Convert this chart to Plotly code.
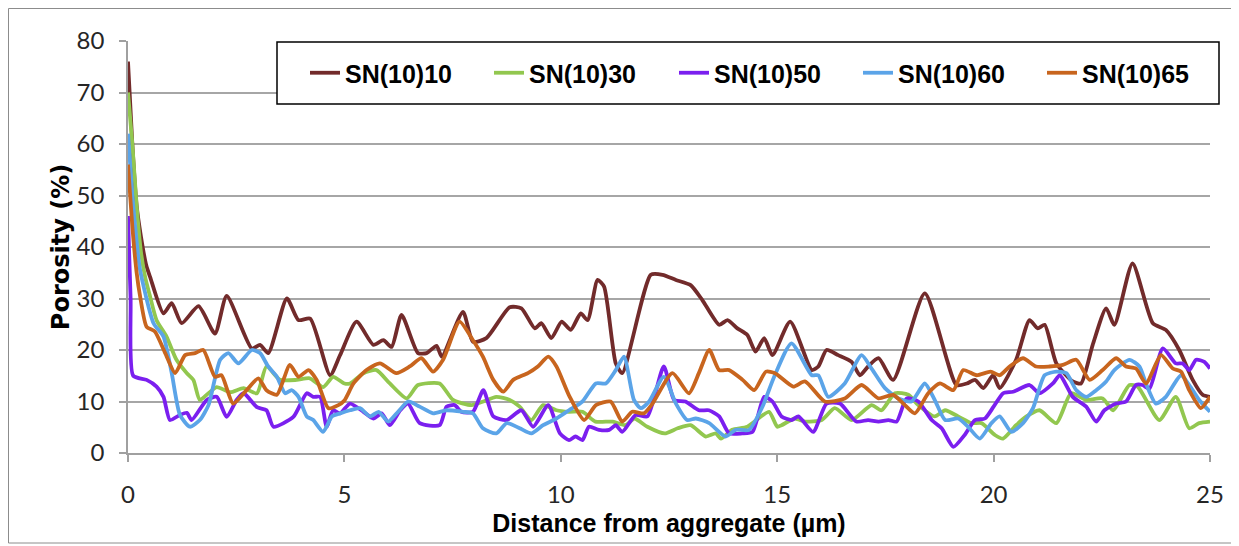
import plotly.graph_objects as go

# ---------------- data ----------------
x_sn10 = [0, 0.1, 0.2, 0.3, 0.42, 0.51, 0.82, 1.01, 1.24, 1.63, 2.01, 2.28, 2.86, 3.05, 3.24, 3.67, 3.94, 4.21, 4.67, 4.9,
          5.28, 5.67, 5.9, 6.09, 6.32, 6.7, 6.9, 7.13, 7.25, 7.74, 7.97, 8.28, 8.82, 9.09, 9.4, 9.55, 9.78, 10.02, 10.23, 10.46,
          10.62, 10.85, 11.0, 11.27, 11.42, 12.08, 12.35, 12.66, 13.0, 13.27, 13.66, 13.85, 14.08, 14.31, 14.5, 14.7, 14.89,
          15.3, 15.8, 15.95, 16.14, 16.41, 16.72, 16.91, 17.1, 17.34, 17.68, 18.41, 19.14, 19.38, 19.57, 19.76, 19.99, 20.14,
          20.52, 20.83, 21.02, 21.18, 21.45, 21.83, 22.02, 22.29, 22.6, 22.79, 23.21, 23.68, 23.98, 24.29, 24.6, 24.83, 25.0]
y_sn10 = [76, 60, 48, 42, 36.5, 34.2, 27.1, 29.1, 25.2, 28.5, 23.2, 30.5, 20.3, 21, 19.4, 30.0, 25.8, 26.1, 15.1, 19,
          25.5, 21, 21.9, 20.6, 26.8, 19.4, 19.4, 20.8, 18.7, 27.4, 21.6, 22.3, 28.3, 28.1, 24.2, 25.2, 22.3, 25.5, 23.9, 27.1,
          25.8, 33.6, 32.3, 17.4, 15.5, 34.6, 34.6, 33.6, 32.6, 29.7, 24.9, 25.8, 24.2, 22.9, 19.7, 22.3, 19.0,
          25.5, 16.1, 16.8, 20.0, 19.0, 17.7, 15.1, 16.8, 18.4, 14.2, 31.0, 13.2, 13.5, 14.2, 12.6, 15.1, 12.6,
          18.1, 25.8, 24.2, 24.9, 17.4, 13.9, 13.5, 21.0, 28.1, 24.9, 36.8, 25.2, 23.9, 20.0, 14.2, 11.3, 10.9]

x_sn30 = [0, 0.1, 0.2, 0.3, 0.4, 0.51, 0.66, 0.89, 1.12, 1.36, 1.51, 1.66, 1.86, 2.05, 2.36, 2.67, 2.98, 3.2, 3.51, 3.9,
          4.2, 4.51, 4.74, 5.0, 5.13, 5.44, 5.74, 6.05, 6.44, 6.7, 7.2, 7.51, 7.94, 8.21, 8.51, 8.82, 9.05, 9.32, 9.59, 9.9,
          10.18, 10.5, 10.8, 11.2, 11.5, 11.7, 12.0, 12.4, 12.7, 13.0, 13.35, 13.58, 13.7, 13.96, 14.31, 14.81, 15.0, 15.1,
          15.41, 15.64, 16.03, 16.33, 16.72, 17.18, 17.41, 17.72, 18.03, 18.26, 18.64, 18.88, 19.18, 19.49, 19.72, 20.03,
          20.22, 20.52, 20.76, 21.06, 21.45, 21.79, 22.14, 22.52, 22.76, 23.14, 23.33, 23.83, 24.21, 24.52, 24.75, 25.0]
y_sn30 = [70, 60, 48, 39, 34, 30.4, 25.8, 22.6, 18.1, 15.5, 14.2, 10.3, 11.6, 12.8, 11.8, 12.6, 11.6, 16.8, 14.2, 14.2,
          14.5, 12.8, 14.8, 13.5, 13.5, 15.5, 16.1, 13.5, 10.6, 13.2, 13.5, 10.3, 9.3, 10.0, 10.9, 10.3, 9.0, 6.4, 9.3, 8.3,
          8.0, 8.0, 6.1, 6.1, 5.4, 6.7, 5.1, 3.8, 4.8, 5.4, 3.2, 3.8, 2.8, 4.5, 5.1, 8.0, 5.1, 5.4,
          6.7, 6.1, 6.4, 8.7, 6.4, 9.3, 8.3, 11.6, 11.3, 9.3, 7.1, 8.3, 7.1, 5.8, 5.8, 3.5,
          2.8, 5.4, 7.1, 8.3, 5.8, 11.6, 10.3, 10.6, 8.3, 13.2, 12.9, 6.4, 10.9, 4.8, 5.8, 6.1]

x_sn50 = [0, 0.06, 0.12, 0.43, 0.66, 0.82, 0.97, 1.2, 1.36, 1.47, 1.82, 2.05, 2.28, 2.51, 2.67, 2.98, 3.2, 3.36, 3.82,
          4.13, 4.28, 4.44, 4.59, 4.74, 4.9, 5.13, 5.44, 5.67, 5.86, 6.05, 6.29, 6.47, 6.74, 7.2, 7.36, 7.55, 7.7, 7.97,
          8.21, 8.44, 8.75, 9.09, 9.36, 9.71, 9.98, 10.19, 10.34, 10.5, 10.65, 10.88, 11.12, 11.27, 11.42, 11.73, 12.0,
          12.38, 12.62, 12.88, 13.19, 13.42, 13.66, 13.89, 14.19, 14.43, 14.7, 14.89, 15.1, 15.33, 15.49, 15.83, 16.14,
          16.45, 16.83, 17.1, 17.34, 17.57, 17.76, 17.99, 18.26, 18.57, 18.8, 19.07, 19.33, 19.57, 19.8, 20.0, 20.22,
          20.45, 20.83, 21.06, 21.37, 21.53, 21.83, 22.14, 22.37, 22.56, 22.83, 23.06, 23.29, 23.44, 23.6, 23.91, 24.21,
          24.37, 24.52, 24.68, 24.87, 25.0]
y_sn50 = [46, 30, 15, 14.2, 12.9, 10.9, 6.4, 7.4, 7.8, 6.4, 10.3, 10.9, 7.0, 10.3, 11.6, 8.9, 8.3, 5.1, 7.0,
          11.6, 10.9, 10.9, 5.1, 8.3, 7.7, 9.6, 8.0, 6.7, 7.7, 5.4, 8.3, 9.6, 5.8, 5.4, 9.0, 9.3, 8.0, 8.0,
          12.2, 7.1, 6.4, 8.3, 5.1, 9.3, 3.8, 2.5, 3.2, 2.5, 5.1, 4.5, 4.5, 5.4, 4.1, 7.4, 7.1,
          16.8, 10.3, 10.0, 8.3, 8.3, 7.1, 3.8, 3.8, 4.1, 10.9, 10.0, 7.1, 6.4, 7.1, 4.1, 9.6,
          9.6, 6.1, 6.4, 6.1, 6.4, 6.1, 10.6, 10.0, 6.4, 4.8, 1.2, 3.5, 6.4, 6.7, 9.0, 11.6,
          11.9, 13.2, 11.6, 13.5, 15.1, 10.9, 9.0, 6.1, 8.3, 9.6, 10.0, 13.2, 13.2, 12.5, 20.3, 17.4,
          17.4, 16.1, 18.1, 17.7, 16.4]

x_sn60 = [0, 0.1, 0.2, 0.28, 0.59, 0.82, 1.01, 1.2, 1.43, 1.66, 1.86, 2.13, 2.32, 2.55, 2.86, 3.05, 3.24, 3.44, 3.63,
          3.78, 3.94, 4.13, 4.28, 4.51, 4.71, 4.9, 5.13, 5.36, 5.59, 5.79, 6.01, 6.24, 6.47, 6.74, 7.05, 7.36, 7.74, 7.97,
          8.2, 8.51, 8.75, 9.05, 9.32, 9.59, 9.9, 10.19, 10.5, 10.81, 11.04, 11.27, 11.46, 11.69, 11.85, 12.04, 12.38,
          12.66, 12.92, 13.12, 13.43, 13.81, 14.04, 14.35, 14.66, 14.93, 15.33, 15.8, 15.95, 16.18, 16.56, 16.95, 17.18,
          17.49, 17.8, 18.1, 18.41, 18.64, 18.88, 19.18, 19.41, 19.68, 19.95, 20.14, 20.41, 20.68, 20.91, 21.18, 21.45,
          21.68, 21.91, 22.14, 22.37, 22.6, 22.79, 23.14, 23.37, 23.52, 23.75, 23.98, 24.33, 24.52, 24.75, 25.0]
y_sn60 = [62, 50, 41, 35.5, 25.2, 22.6, 15.5, 7.4, 5.1, 6.4, 9.3, 18.1, 19.4, 17.4, 20.0, 19.4, 16.8, 14.8, 11.6,
          12.2, 10.9, 7.1, 6.4, 4.1, 7.1, 7.7, 8.3, 8.7, 7.1, 8.0, 6.1, 8.0, 10.0, 9.0, 7.7, 8.3, 8.0, 7.7,
          4.8, 3.8, 5.8, 4.8, 3.8, 5.4, 6.7, 8.3, 10.0, 13.5, 13.5, 16.1, 18.7, 10.3, 8.7, 10.0, 14.8,
          9.6, 6.4, 6.7, 5.8, 3.2, 4.5, 4.5, 9.0, 14.8, 21.3, 15.1, 15.1, 10.9, 13.5, 19.0, 16.4,
          12.6, 10.6, 10.0, 13.5, 10.3, 6.4, 6.7, 5.1, 2.8, 5.8, 7.1, 4.1, 5.8, 8.7, 15.1, 15.8,
          15.5, 12.2, 10.9, 12.2, 13.9, 16.1, 18.1, 16.8, 13.5, 9.6, 10.9, 15.1, 13.2, 10.3, 8.0]

x_sn65 = [0, 0.1, 0.2, 0.28, 0.43, 0.62, 0.86, 1.09, 1.32, 1.55, 1.74, 2.01, 2.16, 2.43, 2.74, 3.01, 3.2, 3.44, 3.74,
          3.94, 4.17, 4.36, 4.63, 4.86, 5.0, 5.21, 5.51, 5.82, 6.2, 6.51, 6.78, 7.05, 7.28, 7.66, 7.97, 8.2, 8.44, 8.67,
          8.9, 9.24, 9.47, 9.71, 9.9, 10.2, 10.54, 10.81, 11.15, 11.42, 11.65, 11.92, 12.12, 12.58, 12.96, 13.19, 13.43,
          13.66, 13.89, 14.2, 14.47, 14.74, 14.95, 15.37, 15.64, 16.1, 16.56, 16.95, 17.34, 17.68, 17.95, 18.18, 18.49,
          18.76, 19.07, 19.3, 19.61, 19.93, 20.14, 20.37, 20.68, 20.98, 21.29, 21.6, 21.91, 22.22, 22.52, 22.83, 23.06,
          23.29, 23.52, 23.87, 24.14, 24.33, 24.52, 24.79, 25.0]
y_sn65 = [56, 44, 35, 30.4, 24.5, 23.6, 19.4, 15.5, 19.0, 19.4, 20.0, 14.8, 15.1, 9.6, 12.2, 14.5, 12.2, 11.3, 17.1,
          14.8, 16.1, 14.2, 8.7, 9.3, 10.2, 13.5, 16.1, 17.4, 15.5, 16.8, 18.4, 15.8, 18.1, 25.5, 21.9, 18.7, 14.2, 11.9,
          14.2, 15.5, 16.8, 18.7, 16.8, 11.0, 6.4, 9.3, 10.0, 6.1, 8.0, 7.7, 9.6, 15.5, 11.6, 15.5, 20.0,
          16.1, 16.1, 14.2, 12.2, 15.8, 15.5, 12.9, 13.9, 10.0, 10.6, 13.2, 10.6, 11.3, 9.3, 7.7, 11.6,
          13.5, 12.2, 16.1, 15.1, 15.8, 15.1, 16.8, 18.4, 16.8, 16.8, 17.1, 18.1, 14.2, 16.1, 18.4, 16.8,
          16.4, 13.5, 19.0, 16.4, 15.8, 12.2, 8.7, 10.9]

series_names = ["SN(10)10", "SN(10)30", "SN(10)50", "SN(10)60", "SN(10)65"]
series_x = [x_sn10, x_sn30, x_sn50, x_sn60, x_sn65]
series_y = [y_sn10, y_sn30, y_sn50, y_sn60, y_sn65]
series_colors = ["#722B2B", "#92C74F", "#7B1FEF", "#5BA4E8", "#C8651E"]

x_ticks = [0, 5, 10, 15, 20, 25]
y_ticks = [0, 10, 20, 30, 40, 50, 60, 70, 80]

# ---------------- figure geometry (page pixels; page body has an 8px margin) ----------------
OFF = 8
W, H = 1239 - OFF, 546 - OFF
PLOT_L, PLOT_R, PLOT_T, PLOT_B = 128, 1210, 41, 453        # plot area in page pixels
ML, MT = PLOT_L - OFF, PLOT_T - OFF
MR, MB = W - (PLOT_R - OFF), H - (PLOT_B - OFF)
PW, PH = PLOT_R - PLOT_L, PLOT_B - PLOT_T

def px_x(p):
    return (p - PLOT_L) / PW

def px_y(p):
    return (PLOT_B - p) / PH

legend_line_starts = [305, 489, 674, 858, 1042]   # page px of each legend entry

fig = go.Figure()
for i, (name, xs, ys, col) in enumerate(zip(series_names, series_x, series_y, series_colors)):
    fig.add_trace(go.Scatter(x=xs, y=ys, mode="lines", name=name,
                             legend="legend" if i == 0 else f"legend{i + 1}",
                             line=dict(color=col, width=3.8, shape="spline", smoothing=0.6)))

bold_font = "Liberation Sans, Arial, sans-serif"
tick_font = dict(family="Lato, Open Sans, sans-serif", size=24, color="#262626")
leg_font = dict(family=bold_font, size=25, color="black", weight="bold")

layout_legends = {}
for i, xs in enumerate(legend_line_starts):
    key = "legend" if i == 0 else f"legend{i + 1}"
    layout_legends[key] = dict(orientation="h", x=px_x(xs), y=px_y(73), xanchor="left", yanchor="middle",
                               font=leg_font, bgcolor="rgba(0,0,0,0)", borderwidth=0, itemwidth=30)

fig.update_layout(
    width=W, height=H, autosize=False,
    margin=dict(l=ML, r=MR, t=MT, b=MB, pad=0),
    paper_bgcolor="white", plot_bgcolor="white",
    showlegend=True,
    xaxis=dict(range=[0, 25], tickvals=x_ticks, showgrid=False, zeroline=False,
               showline=True, linecolor="#A0A0A0", linewidth=1.5,
               ticks="outside", ticklen=7, tickcolor="#A0A0A0", tickwidth=1.5,
               ticklabelstandoff=12, tickfont=tick_font,
               title=dict(text="Distance from aggregate (µm)", standoff=8,
                          font=dict(family=bold_font, size=25, color="black", weight="bold"))),
    yaxis=dict(range=[0, 80], tickvals=y_ticks, showgrid=True, gridcolor="#A6A6A6", gridwidth=1.5,
               zeroline=False, showline=True, linecolor="#A0A0A0", linewidth=1.5,
               ticks="outside", ticklen=7, tickcolor="#A0A0A0", tickwidth=1.5,
               ticklabelstandoff=10, tickfont=tick_font,
               title=dict(text="Porosity (%)", standoff=0,
                          font=dict(family="DejaVu Sans, sans-serif", size=24, color="black", weight="bold"))),
    shapes=[
        dict(type="rect", xref="paper", yref="paper",
             x0=px_x(277), x1=px_x(1219), y0=px_y(104), y1=px_y(42),
             line=dict(color="black", width=1.5), fillcolor="white", layer="above"),
        dict(type="rect", xref="paper", yref="paper",
             x0=px_x(8.5), x1=px_x(1233), y0=px_y(543), y1=px_y(8.5),
             line=dict(color="#8C8C8C", width=1), fillcolor="rgba(0,0,0,0)", layer="below"),
    ],
    **layout_legends,
)

fig.write_html("out.html")
